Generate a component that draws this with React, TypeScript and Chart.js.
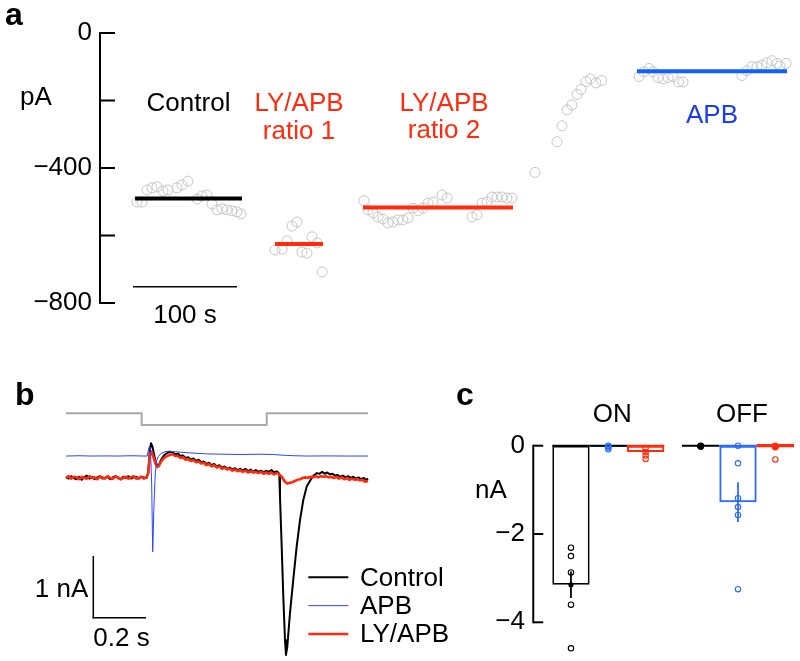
import React, { useEffect, useRef } from "react";
import { Chart, registerables } from "chart.js";

Chart.register(...registerables);

const FONT = '"Liberation Sans", Arial, Helvetica, sans-serif';
const RED = "#ff2b0c";
const BLUE_A = "#1060ff";
const BLUE_TXT = "#1a3cf0";
const BLUE_B = "#2a45ff";
const BLUE_C = "#2b6cff";
const GRAY_PT = "#c6c6c6";
const GRAY_STIM = "#a9a9a9";

// ---------------- panel a : holding current (pA) vs time (s) ----------------
const aCtrlT = [35.6, 40.4, 45.2, 50, 54.8, 60.6, 65.4, 74, 78.8, 84.6, 93.3, 98, 102.9, 107.7, 112.5, 117.3, 122.1, 126.9, 131.7, 135.6];
const aCtrlV = [-501, -501, -465, -459, -456, -468, -465, -459, -450, -439, -492, -483, -480, -507, -524, -521, -524, -527, -530, -536];
const aRatio1T = [168.3, 175, 179.8, 184.6, 189.4, 194.2, 199, 203.8, 208.7, 213.5];
const aRatio1V = [-643, -640, -616, -572, -560, -649, -652, -604, -622, -708];
const aRatio2T = [253.8, 257.7, 262.5, 267.3, 272.1, 276.9, 281.7, 286.5, 291.3, 296.2, 301, 305.8, 310.6, 315.4, 320.2, 328.8, 333.7, 357.7, 362.5, 367.3, 372.1, 376.9, 381.7, 386.5, 391.3, 396.2];
const aRatio2V = [-497, -524, -533, -545, -551, -563, -560, -554, -554, -548, -519, -527, -519, -504, -501, -480, -489, -545, -539, -504, -501, -486, -486, -486, -489, -489];
const aWashT = [418.3, 439.4, 444.2, 449, 453.8, 458.7, 462.5, 467.3, 471.6, 476.9, 482.4];
const aWashV = [-413, -322, -275, -228, -213, -182, -167, -144, -136, -148, -141];
const aApbT = [518.3, 523.1, 527.9, 531.7, 536.5, 541.3, 546.2, 551, 556.3, 560.6, 617.3, 622.1, 626.9, 631.7, 636.5, 641.3, 646.2, 651, 653.8, 659.6];
const aApbV = [-129, -115, -105, -115, -132, -136, -132, -129, -145, -145, -126, -112, -100, -100, -95, -88, -82, -90, -98, -90];

const aSegNames = ["Control", "LY/APB ratio 1", "LY/APB ratio 2", "APB"];
const aSegStart = [33.7, 168.3, 252.9, 516.3];
const aSegEnd = [136.5, 214.4, 397.1, 660.6];
const aSegMean = [-490, -625, -517, -113];
const aSegLabelLines = [["Control"], ["LY/APB", "ratio 1"], ["LY/APB", "ratio 2"], ["APB"]];

const aTickValues = [0, -200, -400, -600, -800];
const aTickLabelValues = [0, -400, -800];
const aTickLabels = ["0", "\u2212400", "\u2212800"];
const aUnit = "pA";
const aBarStart = 31.7;
const aBarLength = 100;
const aBarLevel = -752;
const aBarLabel = "100 s";

// ---------------- panel b : current traces (nA) vs time (s) ----------------
const bStimT = [0, 0.291, 0.772, 1.1615];
const bStimV = [1.06, 0.87, 1.06, 1.06];

const bBaseT = [0, 0.01, 0.02, 0.03, 0.04, 0.05, 0.06, 0.07, 0.08, 0.09, 0.1, 0.11, 0.12, 0.13, 0.14, 0.15, 0.16, 0.17, 0.18, 0.19, 0.2, 0.21, 0.22, 0.23, 0.24, 0.25, 0.26, 0.27, 0.28, 0.29, 0.3, 0.31];
const bOnT = [0.3165, 0.322, 0.327, 0.332, 0.338, 0.344, 0.351, 0.358, 0.366, 0.375, 0.385, 0.395, 0.4];
const bSlopeT = [0.41, 0.42, 0.43, 0.44, 0.45, 0.46, 0.47, 0.48, 0.49, 0.5, 0.51, 0.52, 0.53, 0.54, 0.55, 0.56, 0.57, 0.58, 0.59, 0.6, 0.61, 0.62, 0.63, 0.64, 0.65, 0.66, 0.67, 0.68, 0.69, 0.7, 0.71, 0.72, 0.73, 0.74, 0.75, 0.76, 0.77, 0.78, 0.79, 0.8, 0.81];

const bCtrlBaseV = [0.02, -0.01, 0.03, 0.0, -0.02, 0.02, -0.03, 0.01, 0.04, -0.01, 0.02, -0.02, 0.01, 0.03, -0.01, 0.0, 0.02, -0.02, 0.01, 0.03, 0.0, -0.02, 0.02, 0.0, 0.03, -0.01, 0.01, 0.02, -0.01, 0.02, 0.01, 0.0];
const bCtrlOnV = [0.1, 0.45, 0.57, 0.52, 0.4, 0.28, 0.2, 0.22, 0.3, 0.36, 0.4, 0.42, 0.43];
const bCtrlSlopeV = [0.42, 0.39, 0.4, 0.36, 0.37, 0.33, 0.34, 0.3, 0.32, 0.28, 0.3, 0.26, 0.27, 0.23, 0.25, 0.21, 0.23, 0.19, 0.21, 0.17, 0.19, 0.15, 0.17, 0.14, 0.16, 0.13, 0.15, 0.12, 0.15, 0.11, 0.14, 0.1, 0.13, 0.1, 0.12, 0.09, 0.12, 0.1, 0.13, 0.09, 0.11];
const bCtrlEndT = [0.817, 0.8204, 0.823, 0.8296, 0.8358, 0.8423, 0.846, 0.851, 0.8615, 0.874, 0.887, 0.9, 0.9127, 0.9258, 0.945, 0.955, 0.965, 0.975, 0.985, 0.995, 1.005, 1.015, 1.025, 1.035, 1.045, 1.055, 1.065, 1.075, 1.085, 1.095, 1.105, 1.115, 1.125, 1.135, 1.145, 1.155, 1.1615];
const bCtrlEndV = [0.09, 0.05, -0.31, -1.13, -1.95, -2.66, -2.9, -2.77, -2.21, -1.67, -1.13, -0.69, -0.36, -0.14, 0.0, 0.05, 0.08, 0.07, 0.1, 0.07, 0.09, 0.06, 0.07, 0.04, 0.05, 0.02, 0.04, 0.01, 0.03, 0.0, 0.02, -0.01, 0.01, -0.02, 0.0, -0.03, -0.01];

const bRedBaseV = [0.0, 0.03, -0.01, 0.02, 0.01, -0.02, 0.02, 0.0, -0.01, 0.03, 0.0, 0.01, -0.02, 0.02, 0.01, -0.01, 0.03, 0.0, -0.01, 0.02, 0.01, -0.02, 0.0, 0.02, -0.01, 0.01, 0.03, -0.01, 0.0, 0.02, -0.01, 0.01];
const bRedOnV = [0.08, 0.36, 0.44, 0.4, 0.32, 0.24, 0.18, 0.2, 0.27, 0.32, 0.35, 0.37, 0.38];
const bRedSlopeV = [0.39, 0.36, 0.36, 0.33, 0.34, 0.3, 0.31, 0.28, 0.29, 0.26, 0.27, 0.24, 0.25, 0.21, 0.23, 0.19, 0.21, 0.17, 0.19, 0.15, 0.17, 0.14, 0.15, 0.12, 0.14, 0.11, 0.13, 0.1, 0.12, 0.09, 0.11, 0.09, 0.1, 0.08, 0.1, 0.07, 0.09, 0.07, 0.09, 0.06, 0.08];
const bRedEndT = [0.817, 0.83, 0.84, 0.85, 0.86, 0.87, 0.88, 0.89, 0.9, 0.91, 0.92, 0.93, 0.94, 0.95, 0.96, 0.97, 0.98, 0.99, 1.0, 1.01, 1.02, 1.03, 1.04, 1.05, 1.06, 1.07, 1.08, 1.09, 1.1, 1.11, 1.12, 1.13, 1.14, 1.15, 1.1615];
const bRedEndV = [0.07, 0.02, -0.05, -0.09, -0.08, -0.07, -0.05, -0.03, -0.02, 0.0, 0.01, 0.0, 0.02, 0.01, 0.03, 0.01, 0.03, 0.02, 0.03, 0.01, 0.02, 0.0, 0.02, -0.01, 0.01, -0.02, 0.0, -0.03, -0.01, -0.03, -0.02, -0.04, -0.03, -0.06, -0.05];

const bApbT = [0, 0.05, 0.1, 0.15, 0.2, 0.25, 0.3, 0.312, 0.317, 0.321, 0.325, 0.3295, 0.3335, 0.338, 0.343, 0.349, 0.355, 0.365, 0.38, 0.395, 0.42, 0.464, 0.541, 0.669, 0.75, 0.797, 0.83, 0.849, 0.88, 0.926, 1.0, 1.08, 1.1615];
const bApbV = [0.36, 0.365, 0.36, 0.362, 0.36, 0.365, 0.36, 0.36, 0.46, 0.52, 0.45, -0.1, -1.21, -0.5, 0.05, 0.29, 0.35, 0.4, 0.43, 0.44, 0.43, 0.415, 0.395, 0.385, 0.39, 0.385, 0.375, 0.37, 0.365, 0.36, 0.362, 0.36, 0.36];

const bLegendOrder = ["Control", "APB", "LY/APB"];
const bScaleT0 = 0.105;
const bScaleDur = 0.2;
const bScaleY0 = -2.29;
const bScaleAmp = 1;
const bScaleTimeLabel = "0.2 s";
const bScaleAmpLabel = "1 nA";

// ---------------- panel c : peak currents (nA) ----------------
const cCategories = ["ON", "OFF"];
const cSeries = ["Control", "APB", "LY/APB"];
const cCtrlMean = [-3.15, -0.01];
const cApbMean = [-0.03, -1.28];
const cLyMean = [-0.14, -0.03];
const cCtrlSem = [0.3, 0.0];
const cApbSem = [0.02, 0.45];
const cLySem = [0.06, 0.03];
const cCtrlOnPts = [-2.31, -2.5, -2.87, -3.6, -4.59];
const cCtrlOffPts = [0.0, -0.01, -0.02];
const cApbOnPts = [0.0, -0.02, -0.04, -0.08];
const cApbOffPts = [0.0, -0.4, -1.19, -1.39, -1.57, -3.25];
const cLyOnPts = [-0.05, -0.15, -0.22, -0.3];
const cLyOffPts = [0.0, -0.02, -0.31];
const cTickValues = [0, -2, -4];
const cTickLabels = ["0", "\u22122", "\u22124"];
const cUnit = "nA";

// ---------------------------------------------------------------
function font(size: number, bold = false) {
  return `${bold ? "bold " : ""}${size}px ${FONT}`;
}
function put(ctx: CanvasRenderingContext2D, s: string, x: number, y: number, size: number, color = "#000", align: CanvasTextAlign = "left", baseline: CanvasTextBaseline = "alphabetic", bold = false) {
  ctx.font = font(size, bold);
  ctx.fillStyle = color;
  ctx.textAlign = align;
  ctx.textBaseline = baseline;
  ctx.fillText(s, x, y);
}
function seg(ctx: CanvasRenderingContext2D, x1: number, y1: number, x2: number, y2: number, color: string, w: number) {
  ctx.strokeStyle = color;
  ctx.lineWidth = w;
  ctx.beginPath();
  ctx.moveTo(x1, y1);
  ctx.lineTo(x2, y2);
  ctx.stroke();
}
const xy = (t: number[], v: number[]) => t.map((x, i) => ({ x, y: v[i] }));

const baseOptions = (padding: any) => ({
  responsive: false,
  maintainAspectRatio: false,
  animation: false,
  events: [],
  layout: { padding },
  plugins: { legend: { display: false }, tooltip: { enabled: false }, title: { display: false } },
});

// ---------------- panel a ----------------
const aColors = ["#000", RED, RED, BLUE_A];
const aTextColors = ["#000", RED, RED, BLUE_TXT];
const aTextBase = [111, 111, 110.5, 122.7];
const aTextDx = [0, 0, 6, 0];

const panelAPlugin = {
  id: "panelA",
  afterDraw(chart: any) {
    const { ctx, chartArea } = chart;
    const xs = chart.scales.x;
    const ys = chart.scales.y;
    ctx.save();
    const ax = chartArea.left;
    seg(ctx, ax, ys.getPixelForValue(aTickValues[0]) - 1, ax, ys.getPixelForValue(aTickValues[aTickValues.length - 1]) + 1, "#000", 2);
    aTickValues.forEach((v) => {
      const py = ys.getPixelForValue(v);
      seg(ctx, ax, py, ax + 15, py, "#000", 2);
    });
    aTickLabelValues.forEach((v, i) => {
      put(ctx, aTickLabels[i], ax - 8, ys.getPixelForValue(v), 26, "#000", "right", "middle");
    });
    put(ctx, aUnit, 20, 105, 26);
    put(ctx, "a", 5, 25, 32, "#000", "left", "alphabetic", true);
    aSegLabelLines.forEach((lines, i) => {
      const cx = (xs.getPixelForValue(aSegStart[i]) + xs.getPixelForValue(aSegEnd[i])) / 2 + aTextDx[i];
      lines.forEach((s, k) => put(ctx, s, cx, aTextBase[i] + k * 27.5, 26, aTextColors[i], "center"));
    });
    const bx1 = xs.getPixelForValue(aBarStart);
    const bx2 = xs.getPixelForValue(aBarStart + aBarLength);
    const by = ys.getPixelForValue(aBarLevel);
    seg(ctx, bx1, by, bx2, by, "#000", 1.5);
    put(ctx, aBarLabel, (bx1 + bx2) / 2, by + 36, 26, "#000", "center");
    ctx.restore();
  },
};

function buildA(): any {
  const segs = aSegStart.map((s, i) => ({
    type: "line",
    label: aSegNames[i],
    data: [
      { x: s, y: aSegMean[i] },
      { x: aSegEnd[i], y: aSegMean[i] },
    ],
    borderColor: aColors[i],
    borderWidth: 4,
    borderCapStyle: "butt",
    pointRadius: 0,
    clip: false,
    order: 0,
  }));
  const pts = [
    ...xy(aCtrlT, aCtrlV),
    ...xy(aRatio1T, aRatio1V),
    ...xy(aRatio2T, aRatio2V),
    ...xy(aWashT, aWashV),
    ...xy(aApbT, aApbV),
  ];
  return {
    type: "scatter",
    data: {
      datasets: [
        ...segs,
        {
          type: "scatter",
          label: "samples",
          data: pts,
          pointRadius: 5,
          pointBorderWidth: 1,
          borderColor: GRAY_PT,
          backgroundColor: "rgba(255,255,255,0)",
          pointBorderColor: GRAY_PT,
          pointBackgroundColor: "rgba(255,255,255,0)",
          clip: false,
          order: 1,
        },
      ],
    },
    options: {
      ...baseOptions({ left: 100, right: 10, top: 33, bottom: 358 }),
      scales: {
        x: { type: "linear", display: false, min: 0, max: 663.46 },
        y: { type: "linear", display: false, min: -800, max: 0 },
      },
    },
    plugins: [panelAPlugin],
  };
}

// ---------------- panel b ----------------
const panelBPlugin = {
  id: "panelB",
  afterDraw(chart: any) {
    const { ctx } = chart;
    const xs = chart.scales.x;
    const ys = chart.scales.y;
    ctx.save();
    put(ctx, "b", 15, 405, 32, "#000", "left", "alphabetic", true);
    const vx = xs.getPixelForValue(bScaleT0);
    const hx2 = xs.getPixelForValue(bScaleT0 + bScaleDur);
    const yb = ys.getPixelForValue(bScaleY0);
    const yt = ys.getPixelForValue(bScaleY0 + bScaleAmp);
    ctx.lineCap = "square";
    seg(ctx, vx, yt, vx, yb, "#000", 1.5);
    seg(ctx, vx, yb, hx2, yb, "#000", 1.5);
    ctx.lineCap = "butt";
    put(ctx, bScaleAmpLabel, vx - 5, (yt + yb) / 2 + 9.5, 26, "#000", "right");
    put(ctx, bScaleTimeLabel, vx, yb + 28.5, 26, "#000", "left");
    bLegendOrder.forEach((name, k) => {
      const ds = chart.data.datasets.find((d: any) => d.label === name);
      const ly = 577.3 + k * 28.35;
      seg(ctx, 308.3, ly, 348.3, ly, ds.borderColor, ds.borderWidth);
      put(ctx, name, 360, ly + 8.3, 26);
    });
    ctx.restore();
  },
};

function buildB(): any {
  const common = { pointRadius: 0, tension: 0, clip: false, borderJoinStyle: "round", fill: false };
  return {
    type: "line",
    data: {
      datasets: [
        { ...common, label: "stimulus", data: xy(bStimT, bStimV), borderColor: GRAY_STIM, borderWidth: 2, stepped: true, order: 3 },
        {
          ...common,
          label: "Control",
          data: xy([...bBaseT, ...bOnT, ...bSlopeT, ...bCtrlEndT], [...bCtrlBaseV, ...bCtrlOnV, ...bCtrlSlopeV, ...bCtrlEndV]),
          borderColor: "#000",
          borderWidth: 2,
          order: 2,
        },
        {
          ...common,
          label: "LY/APB",
          data: xy([...bBaseT, ...bOnT, ...bSlopeT, ...bRedEndT], [...bRedBaseV, ...bRedOnV, ...bRedSlopeV, ...bRedEndV]),
          borderColor: RED,
          borderWidth: 2.6,
          order: 1,
        },
        { ...common, label: "APB", data: xy(bApbT, bApbV), borderColor: BLUE_B, borderWidth: 1, order: 0 },
      ],
    },
    options: {
      ...baseOptions({ left: 66, right: 432, top: 386.5, bottom: 0 }),
      scales: {
        x: { type: "linear", display: false, min: 0, max: 1.1615 },
        y: { type: "linear", display: false, min: -3, max: 1.5 },
      },
    },
    plugins: [panelBPlugin],
  };
}

// ---------------- panel c ----------------
const cColors = ["#000", BLUE_C, RED];
const cZeroColors = [["#000", "#000"], ["#000", BLUE_C], [RED, RED]];
const cZeroWidths = [[2, 2], [2, 2], [2, 3.2]];
const cDotR = [[2.6, 3.4], [0, 0], [0, 3.4]];
const cSems = [cCtrlSem, cApbSem, cLySem];
const cPoints = [
  [cCtrlOnPts, cCtrlOffPts],
  [cApbOnPts, cApbOffPts],
  [cLyOnPts, cLyOffPts],
];

const panelCPlugin = {
  id: "panelC",
  afterDatasetsDraw(chart: any) {
    const { ctx, chartArea } = chart;
    const ys = chart.scales.y;
    const xs = chart.scales.x;
    const y0 = ys.getPixelForValue(0);
    ctx.save();
    chart.data.datasets.forEach((ds: any, i: number) => {
      const meta = chart.getDatasetMeta(i);
      meta.data.forEach((bar: any, j: number) => {
        const { x, width } = bar.getProps(["x", "width"], true);
        const mean = ds.data[j];
        // zero line (top edge)
        seg(ctx, x - width / 2, y0, x + width / 2, y0, cZeroColors[i][j], cZeroWidths[i][j]);
        // error bar
        const sem = cSems[i][j];
        if (sem > 0) seg(ctx, x, ys.getPixelForValue(mean + sem), x, ys.getPixelForValue(mean - sem), cColors[i], 1.8);
        // individual points
        ctx.strokeStyle = cColors[i];
        ctx.lineWidth = 1.1;
        cPoints[i][j].forEach((v: number) => {
          ctx.beginPath();
          ctx.arc(x, ys.getPixelForValue(v), 2.7, 0, Math.PI * 2);
          ctx.stroke();
        });
        // mean dot
        const r = cDotR[i][j];
        if (r > 0) {
          ctx.fillStyle = cColors[i];
          ctx.beginPath();
          ctx.arc(x, ys.getPixelForValue(mean), r, 0, Math.PI * 2);
          ctx.fill();
        }
      });
    });
    // y axis
    const axX = chartArea.left - 10.2;
    seg(ctx, axX, ys.getPixelForValue(cTickValues[0]) - 1, axX, ys.getPixelForValue(cTickValues[cTickValues.length - 1]) + 1, "#000", 2);
    cTickValues.forEach((v, k) => {
      const py = ys.getPixelForValue(v);
      seg(ctx, axX, py, axX + 10, py, "#000", 2);
      put(ctx, cTickLabels[k], axX - 8.3, py, 26, "#000", "right", "middle");
    });
    put(ctx, cUnit, 475, 498, 26);
    put(ctx, "c", 456, 405, 32, "#000", "left", "alphabetic", true);
    cCategories.forEach((c, j) => {
      put(ctx, c, xs.getPixelForValue(j) + 4, 421.7, 26, "#000", "center");
    });
    ctx.restore();
  },
};

function buildC(): any {
  const means = [cCtrlMean, cApbMean, cLyMean];
  const widths = [1.7, 2, 2];
  return {
    type: "bar",
    data: {
      labels: cCategories,
      datasets: cSeries.map((name, i) => ({
        label: name,
        data: means[i],
        backgroundColor: "rgba(255,255,255,0)",
        borderColor: cColors[i],
        borderWidth: widths[i],
        borderSkipped: false,
        categoryPercentage: 0.8636,
        barPercentage: 1,
      })),
    },
    options: {
      ...baseOptions({ left: 543.45, right: 17.15, top: 428.04, bottom: 3.38 }),
      scales: {
        x: { type: "category", display: false, offset: true },
        y: { type: "linear", display: false, min: -4.8, max: 0.4 },
      },
    },
    plugins: [panelCPlugin],
  };
}

// ---------------------------------------------------------------
function ChartCanvas({ build, width, height }: { build: () => any; width: number; height: number }) {
  const ref = useRef<HTMLCanvasElement | null>(null);
  useEffect(() => {
    const chart = new Chart(ref.current as HTMLCanvasElement, build());
    return () => chart.destroy();
  }, [build]);
  return (
    <canvas
      ref={ref}
      width={width}
      height={height}
      style={{ position: "absolute", left: 0, top: 0, width, height }}
    />
  );
}

export default function App() {
  return (
    <div
      style={{
        position: "fixed",
        left: 0,
        top: 0,
        width: 800,
        height: 661,
        overflow: "hidden",
        background: "#fff",
      }}
    >
      <ChartCanvas build={buildA} width={800} height={661} />
      <ChartCanvas build={buildB} width={800} height={661} />
      <ChartCanvas build={buildC} width={820} height={661} />
    </div>
  );
}
